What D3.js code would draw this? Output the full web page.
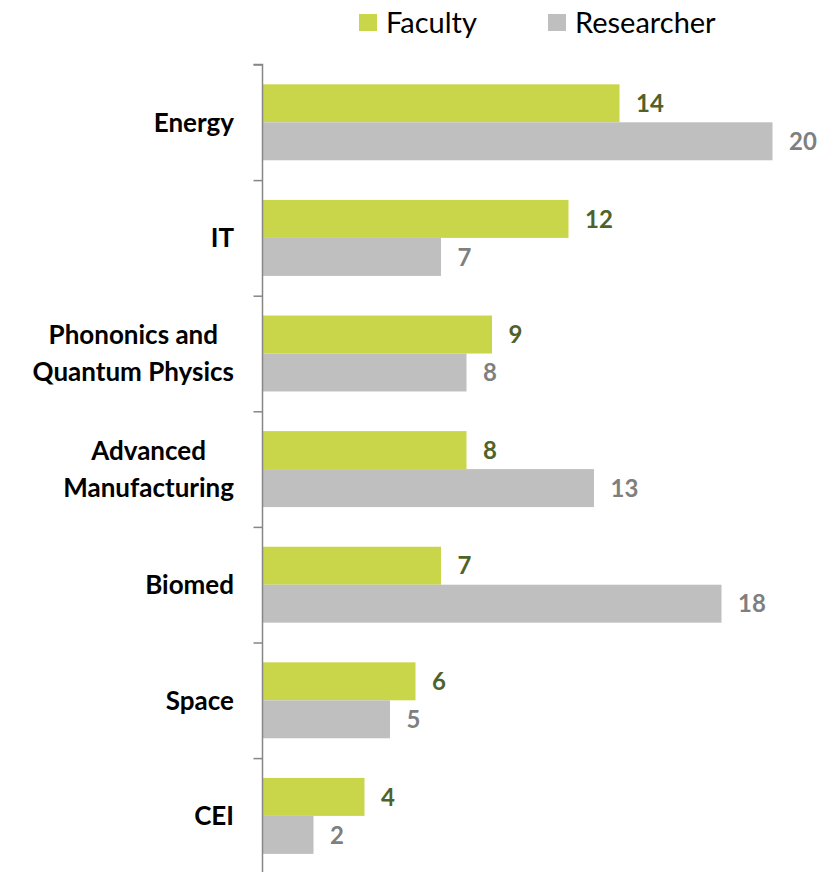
<!DOCTYPE html>
<html>
<head>
<meta charset="utf-8">
<script src="https://cdn.jsdelivr.net/npm/d3@7"></script>
<style>
  body { margin: 0; background: #fff; }
  svg { display: block; font-family: Lato, "Open Sans", sans-serif; }
</style>
</head>
<body>
<div id="chart"></div>
<script>
// data
var categories = ["Energy", "IT", "Phononics and\nQuantum Physics", "Advanced\nManufacturing", "Biomed", "Space", "CEI"];
var faculty    = [14, 12, 9, 8, 7, 6, 4];
var researcher = [20, 7, 8, 13, 18, 5, 2];
var seriesNames = ["Faculty", "Researcher"];

var width = 823, height = 872;
var plotLeft = 262.5, plotTop = 64.5, step = 115.6;
var barColor = ["#c9d649", "#bfbfbf"];
var labelColor = ["#4f6228", "#7f7f7f"];

var svg = d3.select("#chart").append("svg")
    .attr("width", width)
    .attr("height", height);

// x: 25.5 px per unit
var x = d3.scaleLinear().domain([0, 20]).range([plotLeft, plotLeft + 510]);

var y = d3.scaleBand()
    .domain(categories)
    .range([plotTop, plotTop + step * categories.length])
    .paddingInner(0.343)
    .paddingOuter(0.1715);

var inner = d3.scaleBand().domain(seriesNames).range([0, y.bandwidth()]);

var rows = categories.map(function (c, i) {
    return { cat: c, values: [faculty[i], researcher[i]] };
});

var g = svg.selectAll(".row").data(rows).enter().append("g")
    .attr("class", "row")
    .attr("transform", function (d) { return "translate(0," + y(d.cat) + ")"; });

// bars
g.selectAll("rect").data(function (d) { return d.values; }).enter().append("rect")
    .attr("x", x(0))
    .attr("y", function (d, i) { return inner(seriesNames[i]); })
    .attr("width", function (d) { return x(d) - x(0); })
    .attr("height", inner.bandwidth())
    .attr("fill", function (d, i) { return barColor[i]; });

// value labels
g.selectAll("text.val").data(function (d) { return d.values; }).enter().append("text")
    .attr("class", "val")
    .attr("x", function (d) { return x(d) + 16.5; })
    .attr("y", function (d, i) { return inner(seriesNames[i]) + inner.bandwidth() / 2; })
    .attr("dy", "0.36em")
    .attr("font-size", "24px")
    .attr("font-weight", "bold")
    .attr("fill", function (d, i) { return labelColor[i]; })
    .text(function (d) { return d; });

// axis line with ticks between categories
var axisY = d3.scaleLinear().domain([0, categories.length]).range([plotTop, plotTop + step * categories.length]);
var yAxis = d3.axisLeft(axisY).ticks(categories.length).tickSize(9).tickFormat("");
var ax = svg.append("g").attr("transform", "translate(" + plotLeft + ",0)").call(yAxis);
ax.selectAll("path").attr("stroke", "#868686").attr("stroke-width", 1.5)
    .attr("d", "M-9," + plotTop + "H0V" + (plotTop + step * categories.length));
ax.selectAll("line").attr("stroke", "#868686").attr("stroke-width", 1.5);

// category labels: lines centred on each other, block right-aligned at the axis
var lineGap = 37, labelRight = 234;
svg.selectAll("text.cat").data(categories).enter().append("text")
    .attr("class", "cat")
    .attr("text-anchor", "middle")
    .attr("font-size", "26px")
    .attr("font-weight", "bold")
    .attr("fill", "#000")
    .each(function (d) {
        var lines = d.split("\n");
        var cy = y(d) + y.bandwidth() / 2;
        var t = d3.select(this);
        var spans = lines.map(function (ln, k) {
            return t.append("tspan")
                .attr("y", cy + (k - (lines.length - 1) / 2) * lineGap)
                .attr("dy", "0.36em")
                .text(ln);
        });
        var w = d3.max(spans, function (s) { return s.node().getComputedTextLength(); });
        spans.forEach(function (s) { s.attr("x", labelRight - w / 2); });
    });

// legend
var legendX = [359, 548];
var leg = svg.selectAll(".legend").data(seriesNames).enter().append("g")
    .attr("class", "legend")
    .attr("transform", function (d, i) { return "translate(" + legendX[i] + ",14)"; });
leg.append("rect").attr("width", 18).attr("height", 17)
    .attr("fill", function (d, i) { return barColor[i]; });
leg.append("text")
    .attr("x", 27).attr("y", 8.5).attr("dy", "0.36em")
    .attr("font-size", "29px")
    .attr("fill", "#000")
    .text(function (d) { return d; });
</script>
</body>
</html>
